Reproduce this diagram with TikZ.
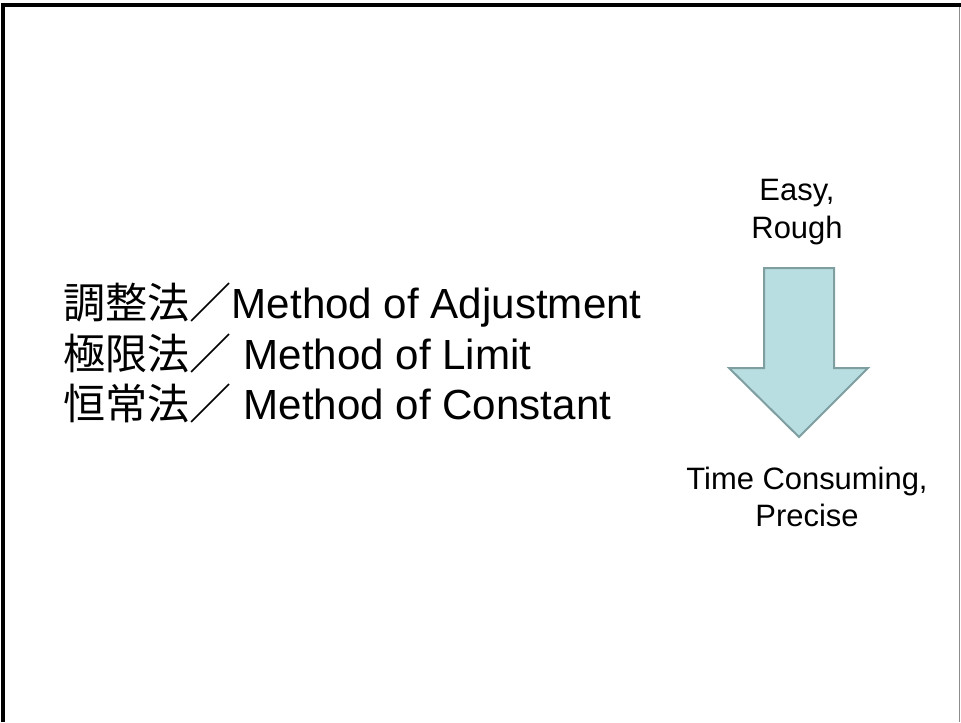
\documentclass[tikz,border=0pt]{standalone}
\usepackage{fontspec}
\setmainfont{Liberation Sans}
\newfontfamily\jpfont{Noto Sans CJK JP}
\usetikzlibrary{positioning}
\definecolor{ink}{RGB}{0,0,0}
\definecolor{shaftfill}{RGB}{184,222,226}
\definecolor{shaftline}{RGB}{126,158,160}
\definecolor{rim}{RGB}{140,140,140}
\tikzset{
  methodtext/.style={anchor=west,inner sep=0pt,align=left,text=ink,
    font=\fontsize{31.6}{38}\selectfont},
  endtext/.style={inner sep=0pt,align=center,text=ink,
    font=\fontsize{23.2}{28}\selectfont}
}

\begin{document}
\begin{tikzpicture}[x=0.75pt,y=-0.75pt]
    \useasboundingbox (0,0) rectangle (961,722);
    \draw[ink,line width=3pt] (3,722) -- (3,5.3) -- (961,5.3);
    \draw[rim,line width=0.75pt] (959.5,7) -- (959.5,722);
    \node[methodtext] (methods) at (63,353) {%
      {\jpfont 調整法／}Method of Adjustment\\
      {\jpfont 極限法／} Method of Limit\\
      {\jpfont 恒常法／} Method of Constant};
    \draw[shaftline,fill=shaftfill,line width=1.5pt,line join=miter]
      (764,268) -- (834,268) -- (834,368) -- (868,368) -- (799,437)
      -- (729,368) -- (764,368) -- cycle;
    \node[endtext] (easy) at (797,212) {Easy,\\Rough};
    \node[endtext] (precise) at (807,497) {Time Consuming,\\Precise};
  \end{tikzpicture}
\end{document}
